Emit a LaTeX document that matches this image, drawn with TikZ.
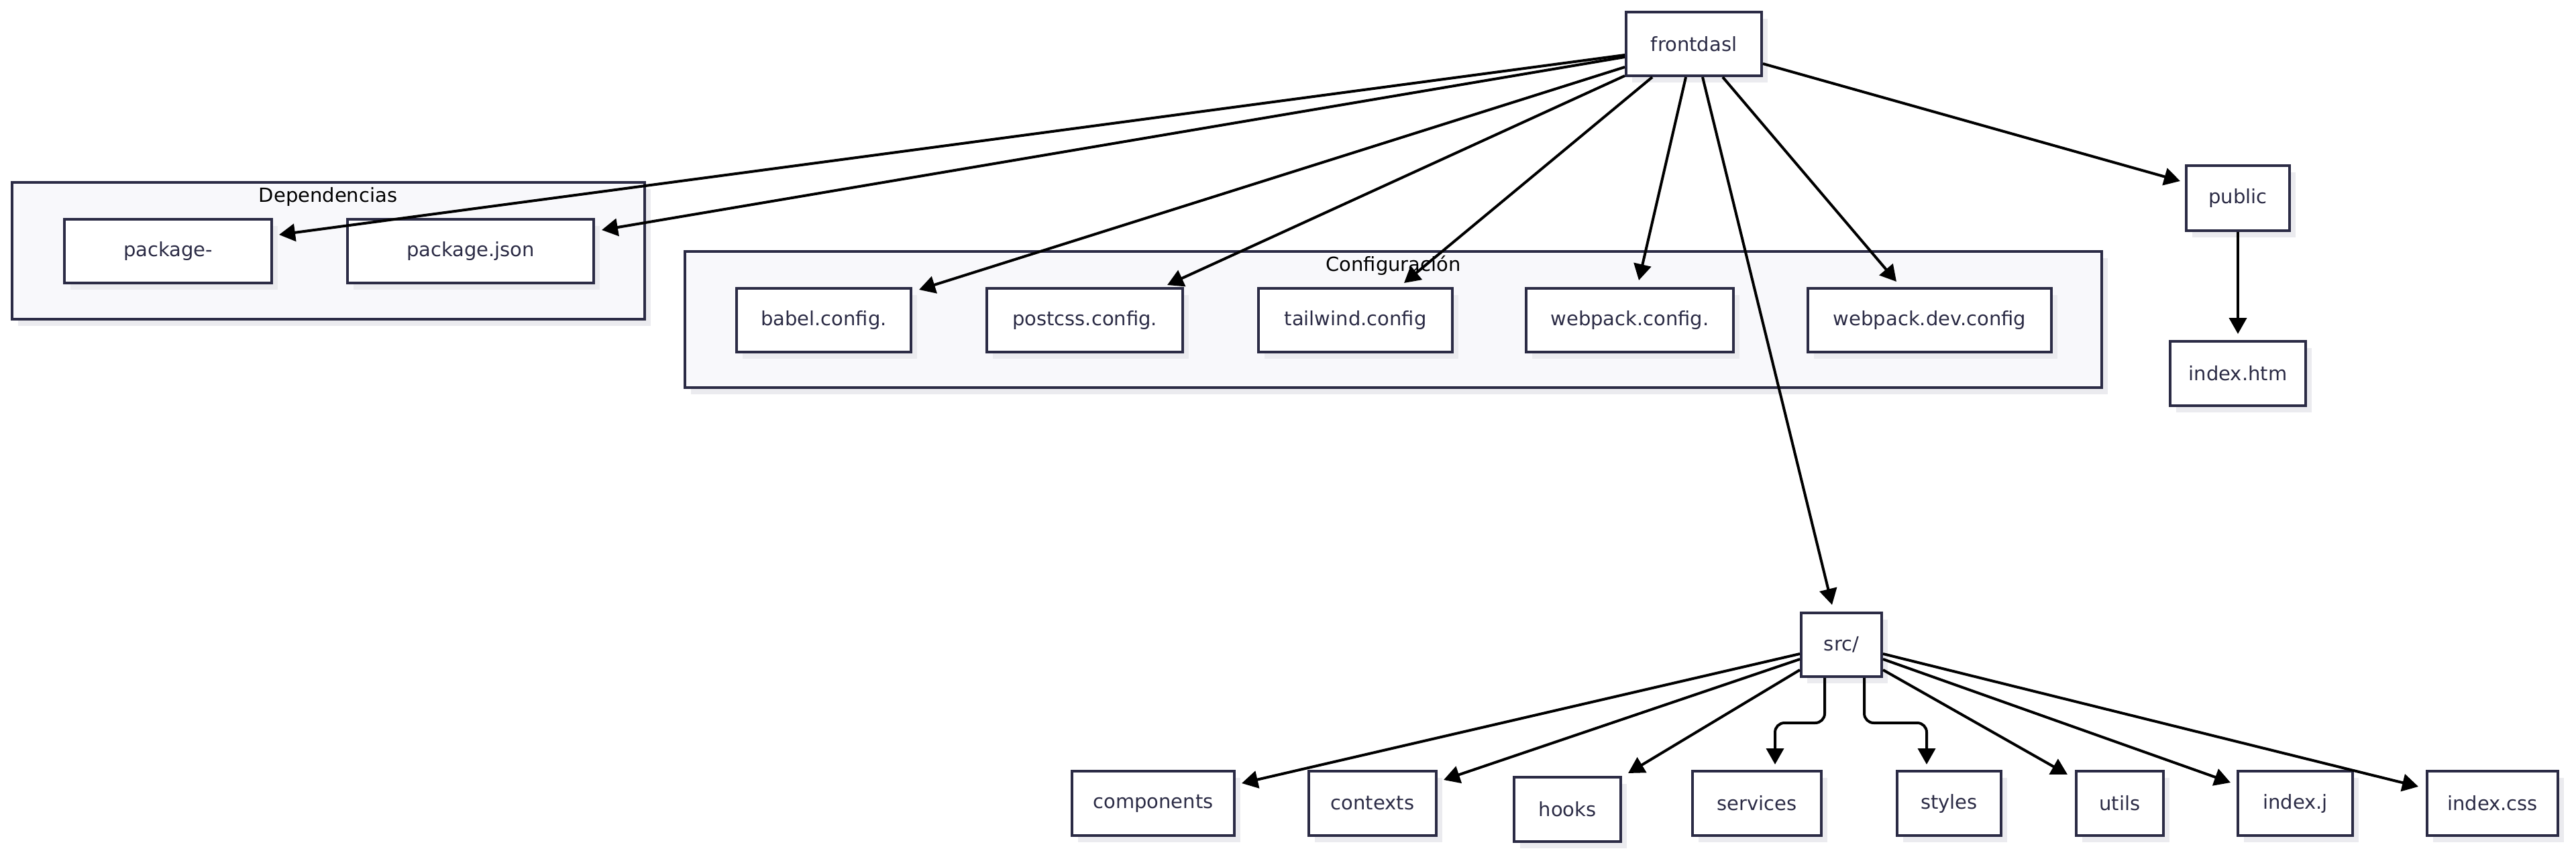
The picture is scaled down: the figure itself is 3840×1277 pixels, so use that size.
\documentclass[tikz,border=0pt]{standalone}
\usepackage{fontspec}
\setmainfont{DejaVu Sans}
\usetikzlibrary{arrows.meta,shadows}
\definecolor{navy}{HTML}{2B2B45}
\definecolor{shade}{HTML}{EBEBEF}
\definecolor{clfill}{HTML}{F8F8FB}
\begin{document}
\begin{tikzpicture}[x=1pt,y=-1pt,
  fbox/.style={draw=navy, line width=4pt, fill=white, text=navy, inner sep=0pt,
    minimum height=95pt, font=\fontsize{29}{34}\selectfont,
    drop shadow={shadow xshift=9pt, shadow yshift=-10pt, fill=shade, opacity=1}},
  clus/.style={draw=navy, line width=4pt, fill=clfill, inner sep=0pt,
    drop shadow={shadow xshift=9pt, shadow yshift=-10pt, fill=shade, opacity=1}},
  clabel/.style={text=black, inner sep=0pt, font=\fontsize{29}{34}\selectfont},
  arr/.style={line width=4pt, black, -{Triangle[length=24pt,width=26pt]}},
]
\useasboundingbox (0,0) rectangle (3840,1277);
\fill[white] (0,0) rectangle (3840,1277);

% clusters
\node[clus, minimum width=943pt, minimum height=204pt] (dep) at (489,374) {};
\node[clabel] (deplabel) at (489,293) {Dependencias};
\node[clus, minimum width=2112pt, minimum height=203pt] (conf) at (2077,476.5) {};
\node[clabel] (conflabel) at (2077,396) {Configuración};

% nodes
\node[fbox, minimum width=202pt] (fd) at (2525,65.5) {frontdasl};
\node[fbox, minimum width=309pt] (pkglock) at (250.5,374) {package-};
\node[fbox, minimum width=367pt] (pkgjson) at (701.5,374) {package.json};
\node[fbox, minimum width=260pt] (babel) at (1228,477.5) {babel.config.};
\node[fbox, minimum width=292pt] (postcss) at (1617,477.5) {postcss.config.};
\node[fbox, minimum width=289pt] (tailwind) at (2020.5,477.5) {tailwind.config};
\node[fbox, minimum width=309pt] (webpack) at (2429.5,477.5) {webpack.config.};
\node[fbox, minimum width=363pt] (wpdev) at (2876.5,477.5) {webpack.dev.config};
\node[fbox, minimum width=154pt, minimum height=97pt] (public) at (3336,295.5) {public};
\node[fbox, minimum width=202pt, minimum height=96pt] (indexhtml) at (3336,557) {index.htm};
\node[fbox, minimum width=120pt] (src) at (2745,961.5) {src/};
\node[fbox, minimum width=242pt, minimum height=96pt] (components) at (1719,1198) {components};
\node[fbox, minimum width=190pt, minimum height=96pt] (contexts) at (2046,1198) {contexts};
\node[fbox, minimum width=159pt, minimum height=96pt] (hooks) at (2336.5,1207) {hooks};
\node[fbox, minimum width=192pt, minimum height=96pt] (services) at (2619,1198) {services};
\node[fbox, minimum width=155pt, minimum height=96pt] (styles) at (2905.5,1198) {styles};
\node[fbox, minimum width=130pt, minimum height=96pt] (utils) at (3160,1198) {utils};
\node[fbox, minimum width=171pt, minimum height=96pt] (indexj) at (3421.5,1198) {index.j};
\node[fbox, minimum width=195pt, minimum height=96pt] (indexcss) at (3715.5,1198) {index.css};

% edges from frontdash
\draw[arr] ([yshift=-16.5pt]fd.west) -- ([xshift=9pt,yshift=24pt]pkglock.east);
\draw[arr] ([yshift=-19.5pt]fd.west) -- ([xshift=10pt,yshift=31pt]pkgjson.east);
\draw[arr] ([yshift=-34.5pt]fd.west) -- ([xshift=10pt,yshift=-4pt]babel.north east);
\draw[arr] ([yshift=2pt]fd.south west) -- ([xshift=123pt,yshift=3pt]postcss.north);
\draw[arr] ([xshift=-62pt]fd.south) -- ([xshift=72.5pt,yshift=6pt]tailwind.north);
\draw[arr] ([xshift=-12pt]fd.south) -- ([xshift=13.5pt,yshift=10pt]webpack.north);
\draw[arr] ([xshift=13pt]fd.south) -- ([xshift=-14pt,yshift=10pt]src.north);
\draw[arr] ([xshift=43pt]fd.south) -- ([xshift=-49.5pt,yshift=8pt]wpdev.north);
\draw[arr] ([yshift=-29.5pt]fd.east) -- ([xshift=-7pt,yshift=25.5pt]public.west);
\draw[arr] (public.south) -- ([yshift=9pt]indexhtml.north);

% edges from src
\draw[arr] ([yshift=-13.5pt]src.west) -- ([xshift=9pt,yshift=-20pt]components.north east);
\draw[arr] ([yshift=-21.5pt]src.west) -- ([xshift=9pt,yshift=-15pt]contexts.north east);
\draw[arr] ([yshift=-37.5pt]src.west) -- ([xshift=9pt,yshift=4pt]hooks.north east);
\coordinate (srcmid) at (2750,1078);
\coordinate (s1) at ([xshift=-25pt]src.south);
\coordinate (t1) at ([xshift=27pt,yshift=8pt]services.north);
\coordinate (s2) at ([xshift=34pt]src.south);
\coordinate (t2) at ([xshift=-33.5pt,yshift=8pt]styles.north);
\draw[arr, rounded corners=14pt] (s1) |- (t1 |- srcmid) -- (t1);
\draw[arr, rounded corners=14pt] (s2) |- (t2 |- srcmid) -- (t2);
\draw[arr] ([yshift=-37.5pt]src.east) -- ([xshift=-11pt,yshift=-7pt]utils.north west);
\draw[arr] ([yshift=-21.5pt]src.east) -- ([xshift=-9pt,yshift=-19pt]indexj.north west);
\draw[arr] ([yshift=-13.5pt]src.east) -- ([xshift=-11pt,yshift=-25pt]indexcss.north west);
\end{tikzpicture}
\end{document}
